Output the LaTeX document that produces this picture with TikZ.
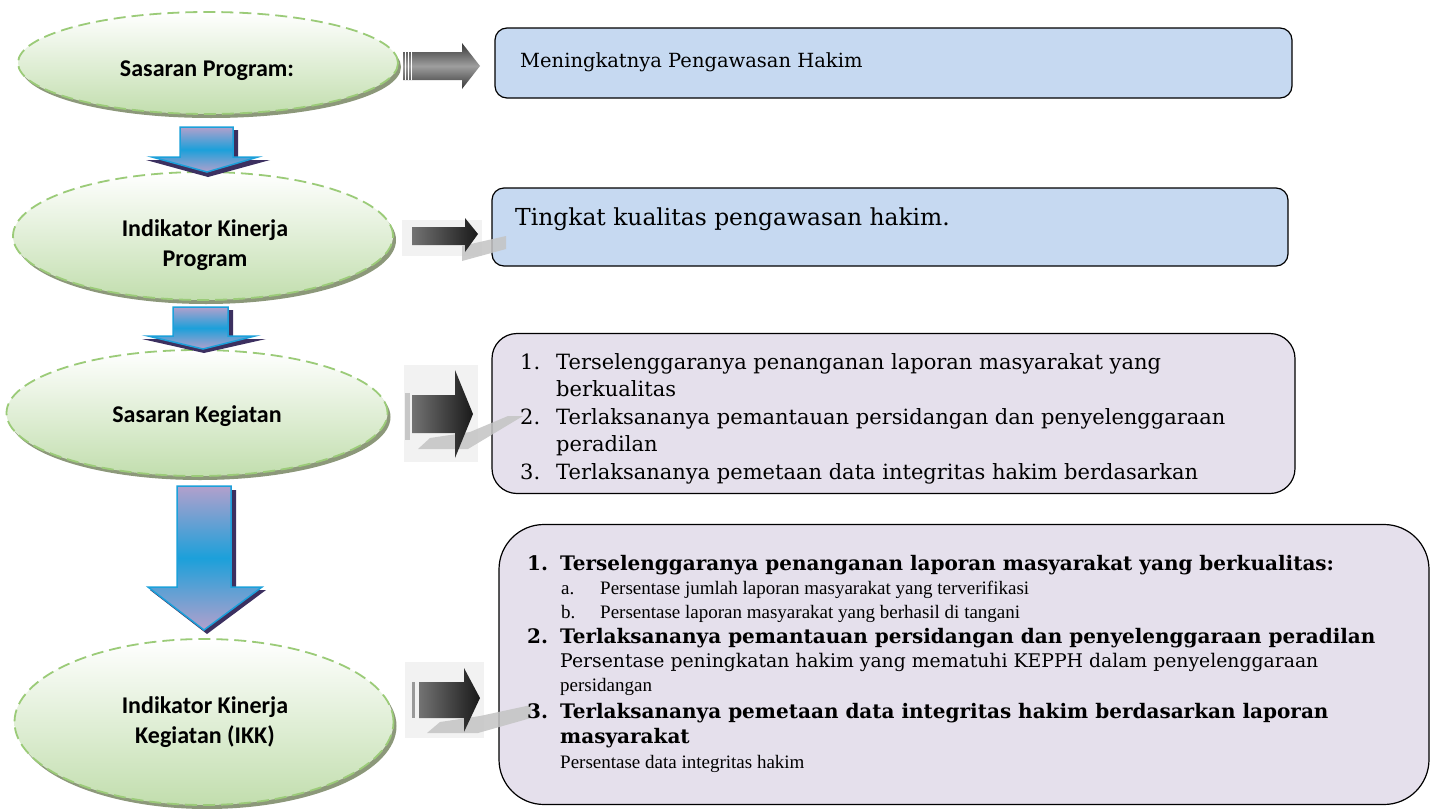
\documentclass[tikz,border=0pt]{standalone}
\usepackage{fontspec}
\setmainfont{DejaVu Serif}
\newfontfamily\calib{Carlito}
\newfontfamily\libser{Liberation Serif}
\usetikzlibrary{shapes.geometric,shadows}
\definecolor{egreen}{RGB}{194,222,174}
\definecolor{edash}{RGB}{155,203,120}
\definecolor{eshadow}{RGB}{140,152,122}
\definecolor{bblue}{RGB}{198,217,241}
\definecolor{bpurple}{RGB}{229,224,236}
\definecolor{apurple}{RGB}{178,160,204}
\definecolor{ablue}{RGB}{28,160,218}
\definecolor{adark}{RGB}{60,48,96}
\definecolor{gshade}{RGB}{196,196,196}
\definecolor{glight}{RGB}{242,242,242}
\begin{document}
\begin{tikzpicture}[x=1pt,y=-1pt,
  ellbox/.style={ellipse, draw=edash, line width=1.8pt, dash pattern=on 12pt off 6pt,
    top color=white, bottom color=egreen,
    drop shadow={shadow xshift=3pt, shadow yshift=-4pt, fill=eshadow, opacity=1}},
  elltext/.style={align=center, font=\calib\bfseries\fontsize{24}{30}\selectfont, inner sep=0pt},
  darrow/.style={draw=ablue, line width=1.5pt, top color=apurple, bottom color=apurple, middle color=ablue},
  dshadow/.style={fill=adark},
  garrow/.style={left color=black!55, right color=black!90},
  gshadow/.style={fill=gshade},
  gglow/.style={fill=glight},
  rbox/.style={draw=black, line width=1.2pt, rectangle},
  btxt/.style={anchor=base west, inner sep=0pt, font=\fontsize{21}{25}\selectfont},
  bbold/.style={anchor=base west, inner sep=0pt, font=\bfseries\fontsize{20}{24}\selectfont},
  bnarrow/.style={anchor=base west, inner sep=0pt, font=\libser\fontsize{19}{22}\selectfont},
  bplain/.style={anchor=base west, inner sep=0pt, font=\fontsize{18.8}{22}\selectfont}
]
\useasboundingbox (0,0) rectangle (1436,809);
\fill[white] (0,0) rectangle (1436,809);

% ellipses
\node[ellbox, minimum width=380pt, minimum height=102pt] (e1) at (208,63) {};
\node[ellbox, minimum width=380pt, minimum height=128pt] (e2) at (203,236) {};
\node[ellbox, minimum width=381pt, minimum height=126pt] (e3) at (197,413) {};
\node[ellbox, minimum width=379pt, minimum height=166pt] (e4) at (204,722) {};
\node[elltext] (t1) at (207,71) {Sasaran Program:};
\node[elltext] (t2) at (205,245) {Indikator Kinerja\\Program};
\node[elltext] (t3) at (197,416) {Sasaran Kegiatan};
\node[elltext] (t4) at (205,722) {Indikator Kinerja\\Kegiatan (IKK)};

% down arrows
\fill[dshadow] (185,130) -- (238,130) -- (238,160) -- (270,160) -- (208,177) -- (146,160) -- (185,160) -- cycle;
\path[darrow] (180,127) -- (233,127) -- (233,157) -- (258,157) -- (207,172) -- (152,157) -- (180,157) -- cycle;
\fill[dshadow] (178,310) -- (233,310) -- (233,339) -- (266,339) -- (204,353) -- (142,339) -- (178,339) -- cycle;
\path[darrow] (173,307) -- (228,307) -- (228,336) -- (255,336) -- (203,349) -- (148,336) -- (173,336) -- cycle;
\fill[dshadow] (182,490) -- (236,490) -- (236,590) -- (266,590) -- (207,634) -- (150,590) -- (182,590) -- cycle;
\path[darrow] (177,486) -- (231,486) -- (231,587) -- (262,587) -- (204,630) -- (148,587) -- (177,587) -- cycle;

% boxes
\node[rbox, rounded corners=12pt, fill=bblue, minimum width=797pt, minimum height=70pt] (b1) at (893.5,63) {};
\node[rbox, rounded corners=12pt, fill=bblue, minimum width=796pt, minimum height=78pt] (b2) at (890,227) {};
\node[rbox, rounded corners=25pt, fill=bpurple, minimum width=803pt, minimum height=160pt] (b3) at (893.5,413.5) {};
\node[rbox, rounded corners=45pt, fill=bpurple, minimum width=930pt, minimum height=280pt] (b4) at (964,664.5) {};

% right arrows
\path[top color=black!78, bottom color=black!78, middle color=black!38]
  (403,52) -- (462,52) -- (462,43) -- (480,66) -- (462,89) -- (462,80) -- (403,80) -- cycle;
\foreach \sx in {405,408,411} \draw[white, line width=0.8pt] (\sx,52) -- (\sx,80);

\fill[gglow] (402,220) rectangle (482,256);
\fill[gshadow, opacity=0.85] (462,246) -- (506,236) -- (506,249) -- (462,261) -- cycle;
\path[garrow] (412,227) -- (465,227) -- (465,218) -- (478,234) -- (465,252) -- (465,245) -- (412,245) -- cycle;

\fill[gglow] (404,365) rectangle (478,462);
\fill[gshadow, opacity=0.85] (418,449) -- (468,449) -- (523,416) -- (508,416) -- (470,432) -- (430,438) -- cycle;
\fill[black!22] (405,393) rectangle (410,440);
\path[garrow] (412,395) -- (455,395) -- (455,370) -- (473,414) -- (455,458) -- (455,433) -- (412,433) -- cycle;

\fill[gglow] (405,662) rectangle (484,738);
\fill[gshadow, opacity=0.85] (427,733) -- (478,733) -- (531,718) -- (531,705) -- (480,716) -- (440,722) -- cycle;
\fill[black!40] (412,682) rectangle (415,718);
\path[garrow] (419,682) -- (464,682) -- (464,668) -- (480,698) -- (464,732) -- (464,718) -- (419,718) -- cycle;

% box texts
\node[btxt, font=\fontsize{19.5}{23}\selectfont] (x1) at (520,67) {Meningkatnya Pengawasan Hakim};
\node[btxt, font=\fontsize{23.4}{27}\selectfont] (x2) at (515,225) {Tingkat kualitas pengawasan hakim.};

\begin{scope}
\clip (492,335) rectangle (1295,483);
\node[btxt] (n31) at (520,369) {1.};
\node[btxt] (l31) at (556,369) {Terselenggaranya penanganan laporan masyarakat yang};
\node[btxt] (l32) at (556,396) {berkualitas};
\node[btxt] (n32) at (520,424) {2.};
\node[btxt] (l33) at (556,424) {Terlaksananya pemantauan persidangan dan penyelenggaraan};
\node[btxt] (l34) at (556,451) {peradilan};
\node[btxt] (n33) at (520,479) {3.};
\node[btxt] (l35) at (556,479) {Terlaksananya pemetaan data integritas hakim berdasarkan};
\end{scope}

\node[bbold] (n41) at (527,570) {1.};
\node[bbold] (l41) at (560,570) {Terselenggaranya penanganan laporan masyarakat yang berkualitas:};
\node[bnarrow] (na) at (561,594) {a.};
\node[bnarrow] (l42) at (600,594) {Persentase jumlah laporan masyarakat yang terverifikasi};
\node[bnarrow] (nb) at (561,618) {b.};
\node[bnarrow] (l43) at (600,618) {Persentase laporan masyarakat yang berhasil di tangani};
\node[bbold] (n42) at (527,643) {2.};
\node[bbold] (l44) at (560,643) {Terlaksananya pemantauan persidangan dan penyelenggaraan peradilan};
\node[bplain] (l45) at (560,667) {Persentase peningkatan hakim yang mematuhi KEPPH dalam penyelenggaraan};
\node[bnarrow] (l46) at (560,691) {persidangan};
\node[bbold] (n43) at (527,718) {3.};
\node[bbold] (l47) at (560,718) {Terlaksananya pemetaan data integritas hakim berdasarkan laporan};
\node[bbold] (l48) at (560,743) {masyarakat};
\node[bnarrow] (l49) at (560,768) {Persentase data integritas hakim};
\end{tikzpicture}
\end{document}
